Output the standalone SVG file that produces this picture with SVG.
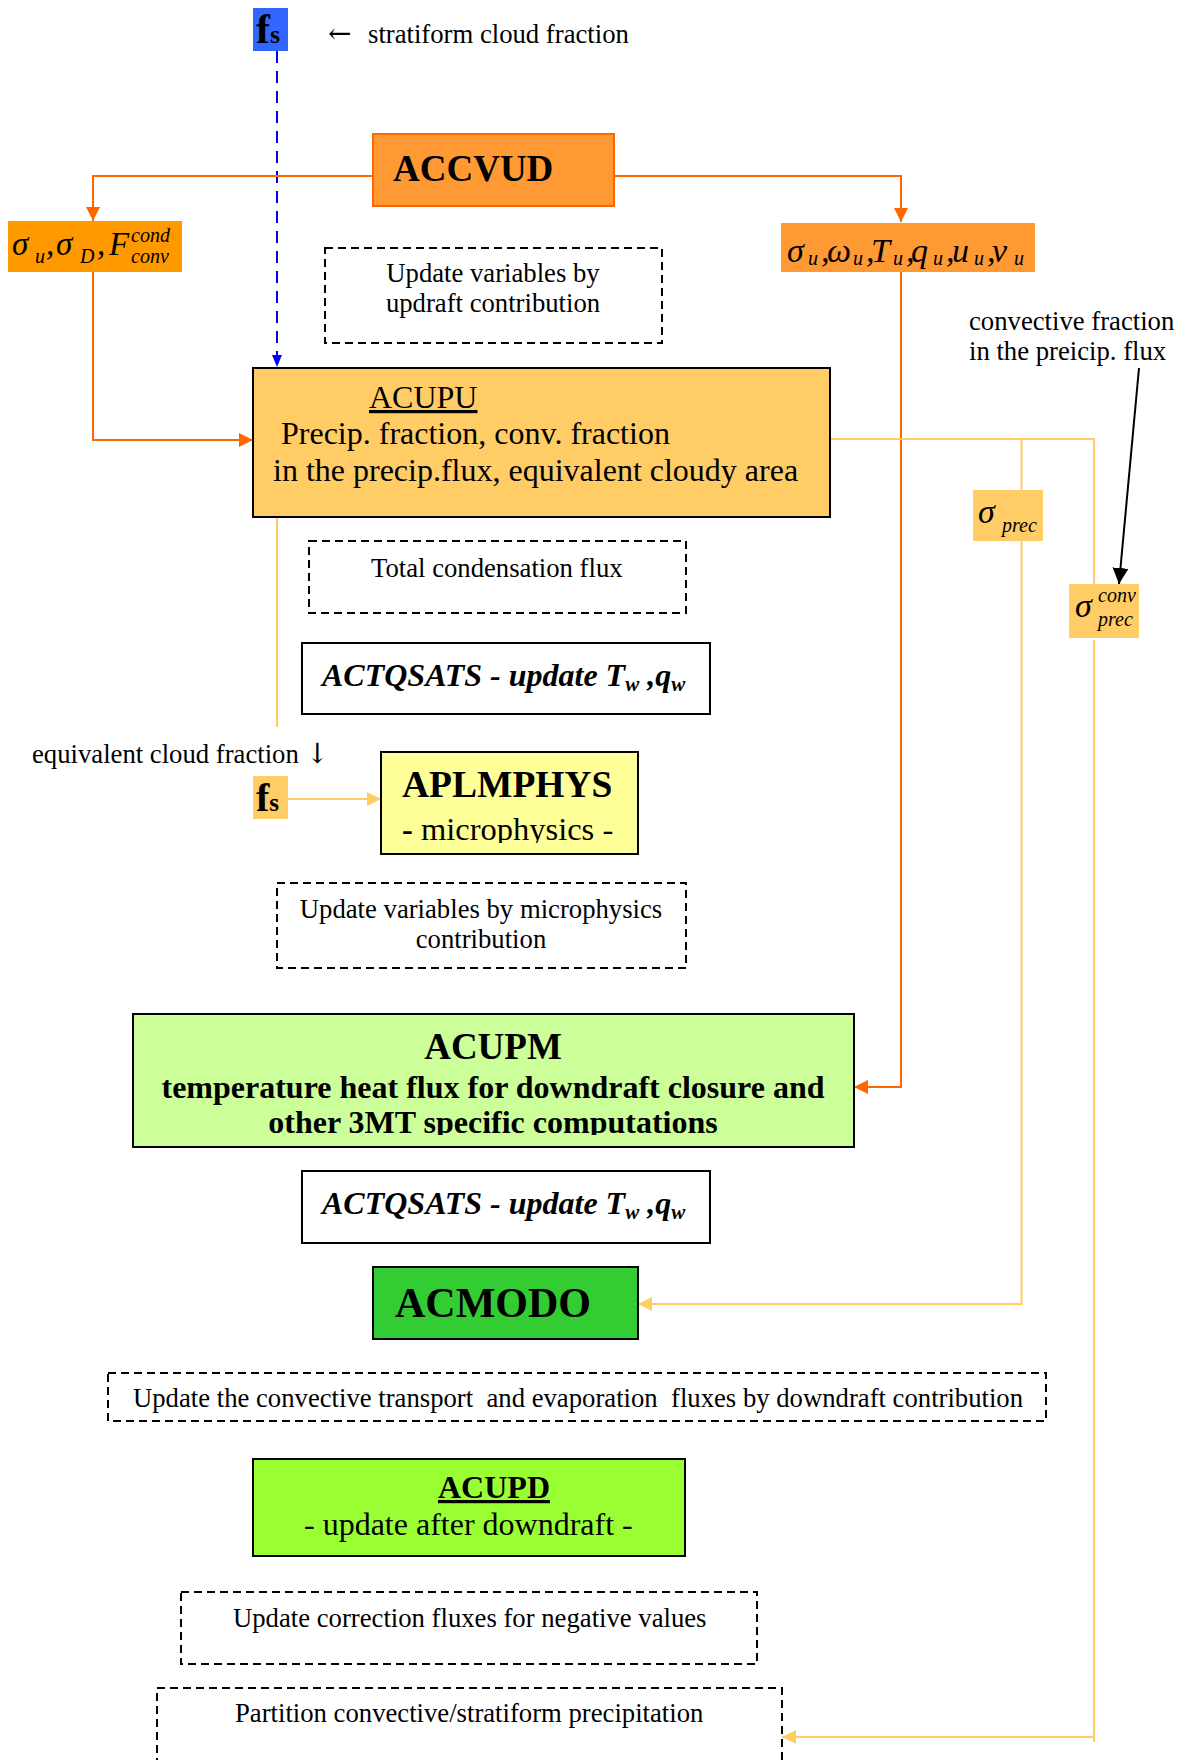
<svg xmlns="http://www.w3.org/2000/svg" width="1190" height="1760" viewBox="0 0 1190 1760">
<style>
text{font-family:"Liberation Serif","Times New Roman",serif;fill:#000}
.t26{font-size:26.7px}
.t31{font-size:32px}
.b{font-weight:bold}
.i{font-style:italic}
.box{stroke:#000;stroke-width:2}
.dash{fill:none;stroke:#000;stroke-width:2;stroke-dasharray:8 5}
.o{fill:none;stroke:#FF6600;stroke-width:2}
.lo{fill:none;stroke:#FFCC66;stroke-width:2}
.sub{font-size:20px}
</style>
<defs>
<marker id="aO" viewBox="0 0 14 14" refX="14" refY="7" markerWidth="14" markerHeight="14" orient="auto" markerUnits="userSpaceOnUse"><path d="M0,0 L14,7 L0,14 z" fill="#FF6600"/></marker>
<marker id="aL" viewBox="0 0 14 14" refX="14" refY="7" markerWidth="14" markerHeight="14" orient="auto" markerUnits="userSpaceOnUse"><path d="M0,0 L14,7 L0,14 z" fill="#FFCC66"/></marker>
<marker id="aB" viewBox="0 0 12 10" refX="12" refY="5" markerWidth="12" markerHeight="10" orient="auto" markerUnits="userSpaceOnUse"><path d="M0,0 L12,5 L0,10 z" fill="#0000FF"/></marker>
<marker id="aK" viewBox="0 0 16 16" refX="16" refY="8" markerWidth="16" markerHeight="16" orient="auto" markerUnits="userSpaceOnUse"><path d="M0,0 L16,8 L0,16 z" fill="#000"/></marker>
<clipPath id="cpAPL"><rect x="381" y="752" width="257" height="91"/></clipPath>
<clipPath id="cpUPM"><rect x="133" y="1014" width="721" height="121"/></clipPath>
</defs>

<g id="connectors">
<path d="M277,51 V367" fill="none" stroke="#0000FF" stroke-width="2" stroke-dasharray="12 8" marker-end="url(#aB)"/>
<path class="o" d="M373,176 H93 V221" marker-end="url(#aO)"/>
<path class="o" d="M614,176 H901 V222" marker-end="url(#aO)"/>
<path class="o" d="M93,272 V440 H253" marker-end="url(#aO)"/>
<path class="o" d="M901,272 V1087 H854" marker-end="url(#aO)"/>
<path class="lo" d="M830,439 H1094 V584"/>
<path class="lo" d="M1021.5,439 V490"/>
<path class="lo" d="M1021.5,541 V1304 H638" marker-end="url(#aL)"/>
<path class="lo" d="M1094,640 V1742 M1094,1737 H782" marker-end="url(#aL)"/>
<path class="lo" d="M277,517 V727"/>
<path class="lo" d="M288,799 H381" marker-end="url(#aL)"/>
<path d="M1139,368 L1119,584" fill="none" stroke="#000" stroke-width="2" marker-end="url(#aK)"/>
</g>

<g id="fs-top">
<rect x="253" y="8" width="35" height="43" fill="#3366FF"/>
<text x="256" y="43" class="b" font-size="42">f<tspan font-size="26">s</tspan></text>
</g>
<g id="label-stratiform">
<text class="t26" x="328" y="43"><tspan font-family="'DejaVu Serif',serif" font-size="28">←</tspan><tspan x="368">stratiform cloud fraction</tspan></text>
</g>

<g id="ACCVUD">
<rect x="373" y="134" width="241" height="72" fill="#FF9933" stroke="#FF6600" stroke-width="2"/>
<text x="393" y="181" class="b" font-size="37">ACCVUD</text>
</g>

<g id="sigma-left">
<rect x="8" y="221" width="174" height="51" fill="#FF9900"/>
<text class="i" font-size="33"><tspan x="12" y="255">σ</tspan><tspan x="35" y="263" class="sub">u</tspan><tspan x="46" y="255">,</tspan><tspan x="56" y="255">σ</tspan><tspan x="80" y="263" class="sub">D</tspan><tspan x="97" y="255">,</tspan><tspan x="109" y="255">F</tspan><tspan x="131" y="242" class="sub">cond</tspan><tspan x="131" y="263" class="sub">conv</tspan></text>
</g>

<g id="sigma-right">
<rect x="781" y="223" width="254" height="49" fill="#FF9933"/>
<text class="i" font-size="34"><tspan x="787" y="262">σ</tspan><tspan x="808" y="265" class="sub">u</tspan><tspan x="821" y="262">,</tspan><tspan x="827" y="262">ω</tspan><tspan x="853" y="265" class="sub">u</tspan><tspan x="866" y="262">,</tspan><tspan x="871" y="262">T</tspan><tspan x="893" y="265" class="sub">u</tspan><tspan x="906" y="262">,</tspan><tspan x="911" y="262">q</tspan><tspan x="933" y="265" class="sub">u</tspan><tspan x="946" y="262">,</tspan><tspan x="952" y="262">u</tspan><tspan x="974" y="265" class="sub">u</tspan><tspan x="987" y="262">,</tspan><tspan x="992" y="262">v</tspan><tspan x="1014" y="265" class="sub">u</tspan></text>
</g>

<g id="note-updraft">
<rect class="dash" x="325" y="248" width="337" height="95"/>
<text class="t26" text-anchor="middle" x="493" y="282">Update variables by</text>
<text class="t26" text-anchor="middle" x="493" y="312">updraft contribution</text>
</g>

<g id="label-convfrac">
<text class="t26" x="969" y="330">convective fraction</text>
<text class="t26" x="969" y="360">in the preicip. flux</text>
</g>

<g id="ACUPU">
<rect class="box" x="253" y="368" width="577" height="149" fill="#FFCC66"/>
<text class="t31" x="369" y="408" text-decoration="underline">ACUPU</text>
<text class="t31" x="281" y="444">Precip. fraction, conv. fraction</text>
<text class="t31" x="273" y="481">in the precip.flux, equivalent cloudy area</text>
</g>

<g id="sigma-prec">
<rect x="973" y="490" width="70" height="51" fill="#FFCC66"/>
<text class="i"><tspan x="978" y="523" font-size="34">σ</tspan><tspan x="1002" y="532" class="sub">prec</tspan></text>
</g>

<g id="sigma-conv-prec">
<rect x="1069" y="584" width="70" height="54" fill="#FFCC66"/>
<text class="i"><tspan x="1075" y="617" font-size="34">σ</tspan><tspan x="1098" y="602" class="sub">conv</tspan><tspan x="1098" y="626" class="sub">prec</tspan></text>
</g>

<g id="note-condensation">
<rect class="dash" x="309" y="541" width="377" height="72"/>
<text class="t26" x="371" y="577">Total condensation flux</text>
</g>

<g id="ACTQSATS-1">
<rect class="box" x="302" y="643" width="408" height="71" fill="#FFFFFF"/>
<text class="b i t31" x="322" y="686">ACTQSATS - update T<tspan font-size="21" dy="5">w</tspan><tspan dy="-5"> ,q</tspan><tspan font-size="21" dy="5">w</tspan></text>
</g>

<g id="label-equiv">
<text class="t26" x="32" y="763">equivalent cloud fraction <tspan font-family="'DejaVu Serif',serif" font-size="28">↓</tspan></text>
</g>

<g id="fs-small">
<rect x="253" y="776" width="35" height="43" fill="#FFCC66"/>
<text x="256" y="811" class="b" font-size="40">f<tspan font-size="25">s</tspan></text>
</g>

<g id="APLMPHYS">
<rect class="box" x="381" y="752" width="257" height="102" fill="#FFFF99"/>
<text x="402" y="797" class="b" font-size="37.5">APLMPHYS</text>
<text x="402" y="840" font-size="32.5" clip-path="url(#cpAPL)"><tspan class="b">-</tspan> microphysics -</text>
</g>

<g id="note-micro">
<rect class="dash" x="277" y="883" width="409" height="85"/>
<text class="t26" text-anchor="middle" x="481" y="918">Update variables by microphysics</text>
<text class="t26" text-anchor="middle" x="481" y="948">contribution</text>
</g>

<g id="ACUPM">
<rect class="box" x="133" y="1014" width="721" height="133" fill="#CCFF99"/>
<text x="493" y="1059" text-anchor="middle" class="b" font-size="37">ACUPM</text>
<text x="493" y="1098" text-anchor="middle" class="b t31">temperature heat flux for downdraft closure and</text>
<text x="493" y="1133" text-anchor="middle" class="b t31" clip-path="url(#cpUPM)">other 3MT specific computations</text>
</g>

<g id="ACTQSATS-2">
<rect class="box" x="302" y="1171" width="408" height="72" fill="#FFFFFF"/>
<text class="b i t31" x="322" y="1214">ACTQSATS - update T<tspan font-size="21" dy="5">w</tspan><tspan dy="-5"> ,q</tspan><tspan font-size="21" dy="5">w</tspan></text>
</g>

<g id="ACMODO">
<rect class="box" x="373" y="1267" width="265" height="72" fill="#33CC33"/>
<text x="395" y="1317" class="b" font-size="42">ACMODO</text>
</g>

<g id="note-transport">
<rect class="dash" x="108" y="1373" width="938" height="48"/>
<text class="t26" x="133" y="1407" style="white-space:pre">Update the convective transport  and evaporation  fluxes by downdraft contribution</text>
</g>

<g id="ACUPD">
<rect class="box" x="253" y="1459" width="432" height="97" fill="#99FF33"/>
<text x="438" y="1498" class="b t31" text-decoration="underline">ACUPD</text>
<text x="304" y="1535" class="t31">- update after downdraft -</text>
</g>

<g id="note-correction">
<rect class="dash" x="181" y="1592" width="576" height="72"/>
<text class="t26" x="233" y="1627">Update correction fluxes for negative values</text>
</g>

<g id="note-partition">
<rect class="dash" x="157" y="1688" width="625" height="90"/>
<text class="t26" x="235" y="1722">Partition convective/stratiform precipitation</text>
</g>
</svg>
